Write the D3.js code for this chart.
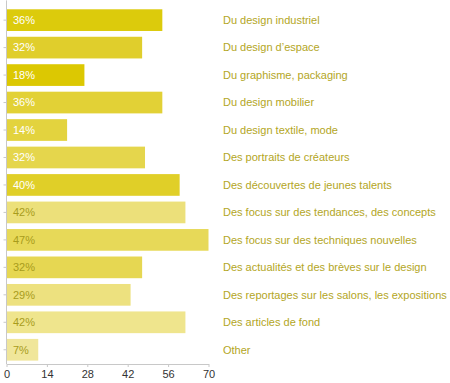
<!DOCTYPE html>
<html>
<head>
<meta charset="utf-8">
<script src="https://cdn.jsdelivr.net/npm/d3@7"></script>
<style>
  html, body { margin: 0; padding: 0; background: #fff; }
  svg { display: block; font-family: "Liberation Sans", Arial, sans-serif; }
</style>
</head>
<body>
<svg id="chart" width="450" height="383"></svg>
<script>
const categories = [
  "Du design industriel",
  "Du design d’espace",
  "Du graphisme, packaging",
  "Du design mobilier",
  "Du design textile, mode",
  "Des portraits de créateurs",
  "Des découvertes de jeunes talents",
  "Des focus sur des tendances, des concepts",
  "Des focus sur des techniques nouvelles",
  "Des actualités et des brèves sur le design",
  "Des reportages sur les salons, les expositions",
  "Des articles de fond",
  "Other"
];
const counts = [54, 47, 27, 54, 21, 48, 60, 62, 70, 47, 43, 62, 11];
const percentLabels = ["36%", "32%", "18%", "36%", "14%", "32%", "40%", "42%", "47%", "32%", "29%", "42%", "7%"];
const barColors = ["#dccb0c", "#e0ce2c", "#dcc802", "#e2d136", "#e3d33e", "#e5d64c", "#e0cf28",
                   "#ece07a", "#e7d958", "#e6d752", "#ede17f", "#efe58d", "#f0e69a"];
const labelColors = ["#ffffff", "#ffffff", "#ffffff", "#ffffff", "#ffffff", "#ffffff", "#ffffff",
                     "#a89c1c", "#a89c1c", "#a89c1c", "#a89c1c", "#a89c1c", "#a89c1c"];
const xTicks = [0, 14, 28, 42, 56, 70];

const svg = d3.select("#chart");
const x = d3.scaleLinear().domain([0, 70]).range([6.5, 208.5]);
const y = d3.scaleBand().domain(categories).range([6.4, 363.5]).paddingInner(0.21).paddingOuter(0.105);

const axisColor = "#c8c8c8";

// bars
svg.append("g").selectAll("rect").data(categories).join("rect")
  .attr("x", x(0))
  .attr("y", d => y(d))
  .attr("width", (d, i) => x(counts[i]) - x(0))
  .attr("height", y.bandwidth())
  .attr("fill", (d, i) => barColors[i]);

// percent labels
svg.append("g").selectAll("text").data(categories).join("text")
  .attr("x", x(0) + 6.5)
  .attr("y", d => y(d) + y.bandwidth() / 2)
  .attr("dy", "0.35em")
  .attr("font-size", 11)
  .attr("fill", (d, i) => labelColors[i])
  .text((d, i) => percentLabels[i]);

// category labels
svg.append("g").selectAll("text").data(categories).join("text")
  .attr("x", 223)
  .attr("y", d => y(d) + y.bandwidth() / 2)
  .attr("dy", "0.35em")
  .attr("font-size", 11)
  .attr("fill", "#b3a61e")
  .text(d => d);

// y axis
const yAxis = svg.append("g").attr("transform", `translate(${x(0)},0)`)
  .call(d3.axisLeft(y).tickSize(3).tickFormat(""));
yAxis.select(".domain").attr("stroke", axisColor).attr("d", `M0,${y.range()[0] - 6}V${y.range()[1] + 0.5}`);
yAxis.selectAll(".tick line").attr("stroke", axisColor);

// x axis
const xAxis = svg.append("g").attr("transform", `translate(0,${y.range()[1] + 0.5})`)
  .call(d3.axisBottom(x).tickValues(xTicks).tickSize(3).tickSizeOuter(0).tickPadding(3));
xAxis.select(".domain").attr("stroke", axisColor);
xAxis.selectAll(".tick line").attr("stroke", axisColor);
xAxis.selectAll(".tick text").attr("font-size", 11).attr("fill", "#333").attr("font-family", "Liberation Sans, Arial, sans-serif");
</script>
</body>
</html>
